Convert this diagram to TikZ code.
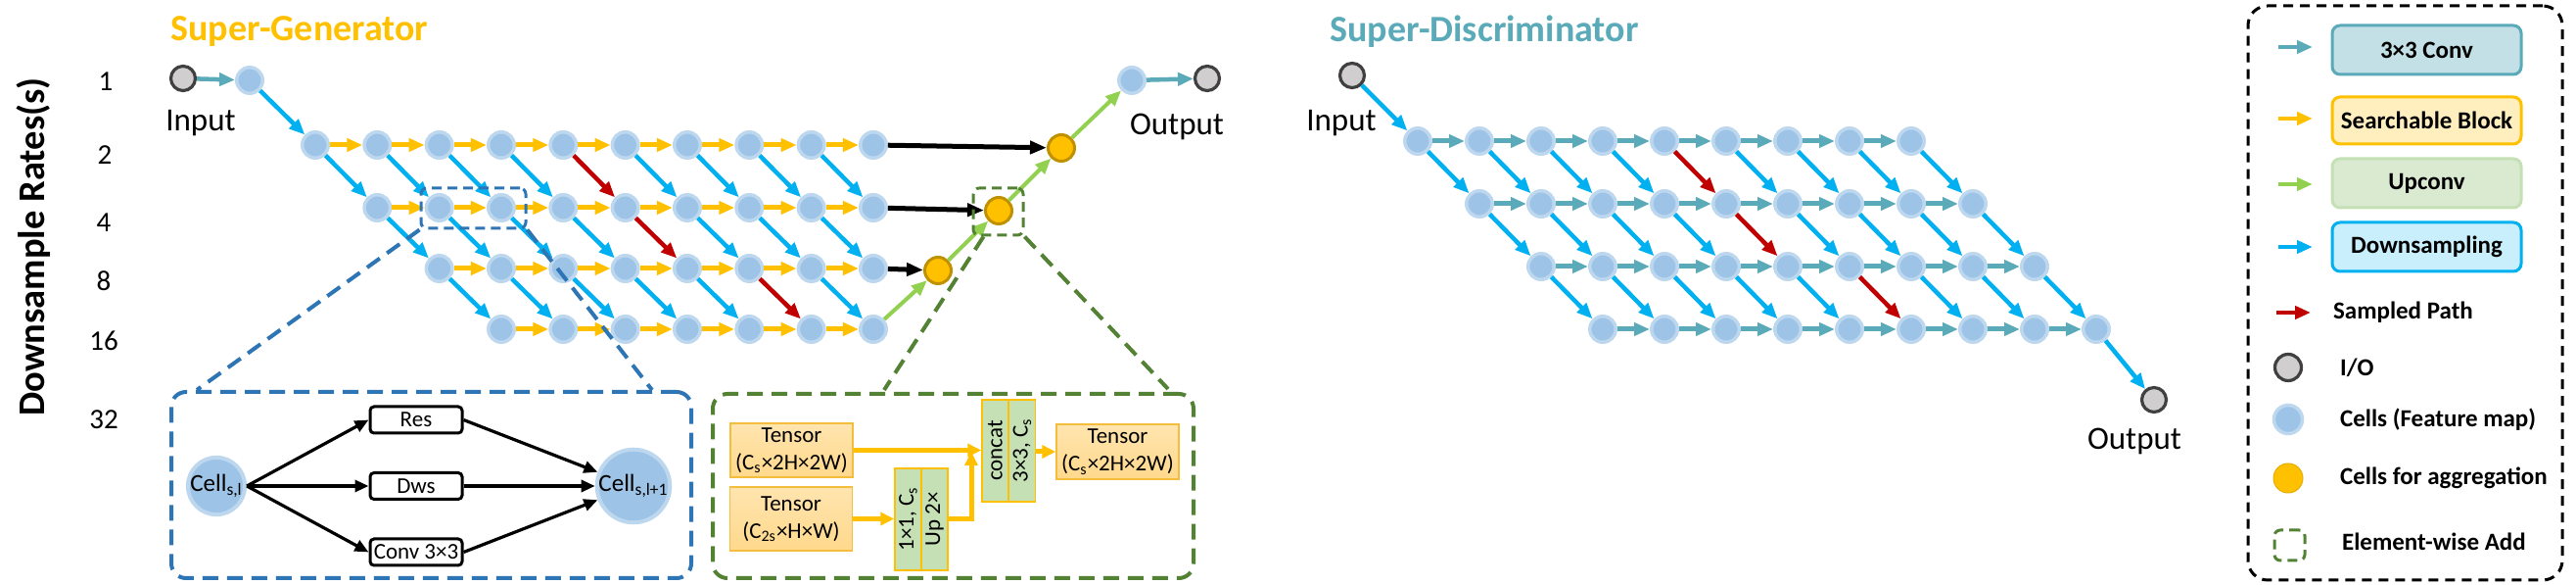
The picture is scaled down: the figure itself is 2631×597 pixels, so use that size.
\documentclass[tikz,border=0pt]{standalone}
\usepackage{fontspec}
\setmainfont{Carlito}
\usetikzlibrary{arrows.meta,calc}
\definecolor{cellfill}{HTML}{9DC3E6}
\definecolor{cellring}{HTML}{BDD7EE}
\definecolor{ioring}{HTML}{404040}
\definecolor{iofill}{HTML}{D0CECE}
\definecolor{dsblue}{HTML}{00B0F0}
\definecolor{sbyellow}{HTML}{FFC000}
\definecolor{convteal}{HTML}{5AAAB9}
\definecolor{upgreen}{HTML}{92D050}
\definecolor{pathred}{HTML}{C00000}
\definecolor{dashblue}{HTML}{2E75B6}
\definecolor{dashgreen}{HTML}{548235}
\definecolor{aggring}{HTML}{BF9000}
\definecolor{convfill}{HTML}{C3E0E6}
\definecolor{sbfill}{HTML}{FFEFBF}
\definecolor{upfill}{HTML}{D9EAD0}
\definecolor{upborder}{HTML}{C5E0B4}
\definecolor{dsfill}{HTML}{C9EEFC}
\definecolor{tensfill}{HTML}{FFD98C}
\definecolor{tensborder}{HTML}{F5BD3C}
\definecolor{opfill}{HTML}{C5E0B4}
\newcommand\setfs[1]{\fontsize{#1pt}{#1pt}\selectfont}
\tikzset{
  cell/.style={circle,fill=cellfill,draw=cellring,line width=1.75pt,minimum size=13.25pt,inner sep=0pt},
  bigcell/.style={circle,fill=cellfill,draw=cellring,line width=2pt,minimum size=28pt,inner sep=0pt},
  iocirc/.style={circle,fill=iofill,draw=ioring,line width=1.6pt,minimum size=12.5pt,inner sep=0pt},
  aggcirc/.style={circle,fill=sbyellow,draw=aggring,line width=1.5pt,minimum size=13.5pt,inner sep=0pt},
  arrtip/.style={-{Triangle[length=8pt,width=6.5pt]}},
  dsarr/.style={arrtip,draw=dsblue,line width=2.25pt},
  sbarr/.style={arrtip,draw=sbyellow,line width=2.5pt},
  convarr/.style={arrtip,draw=convteal,line width=2.25pt},
  uparr/.style={arrtip,draw=upgreen,line width=2pt},
  redarr/.style={arrtip,draw=pathred,line width=2.25pt},
  blkarr/.style={-{Triangle[length=8.5pt,width=6.5pt]},draw=black,line width=2.5pt},
  opsarr/.style={-{Triangle[length=7pt,width=6pt]},draw=black,line width=1.6pt},
  tensarr/.style={-{Triangle[length=7pt,width=6.5pt]},draw=sbyellow,line width=2.5pt},
  numlab/.style={font=\setfs{14.5}},
  iolab/.style={font=\setfs{16.5}},
  bigdash/.style={line width=2pt,dash pattern=on 8pt off 4.5pt,rounded corners=7.5pt},
  smalldash/.style={line width=1.5pt,dash pattern=on 5pt off 3pt,rounded corners=3pt},
  opbox/.style={draw=black,line width=1.5pt,rounded corners=2pt,fill=white,minimum width=47pt,minimum height=13.5pt,inner sep=0pt,font=\setfs{11.5}},
  tensbox/.style={draw=tensborder,line width=0.75pt,top color=tensfill!70!white,bottom color=tensfill,minimum width=62.5pt,inner sep=0pt,align=center,font=\fontsize{11.5pt}{14pt}\selectfont},
  ophalf/.style={draw=sbyellow,line width=0.75pt,fill=opfill,minimum width=13.5pt,minimum height=52pt,inner sep=0pt},
  oplab/.style={rotate=90,font=\setfs{11.5}},
  legbox/.style={line width=1.5pt,rounded corners=4pt,minimum width=96.5pt,minimum height=25pt,inner sep=0pt,font=\bfseries\setfs{12.5}},
  legtext/.style={anchor=west,font=\bfseries\setfs{12.5}},
}
\begin{document}
\begin{tikzpicture}[x=0.5pt,y=-0.5pt]
\useasboundingbox (0,0) rectangle (2631,597);

% ---------------- titles and axis ----------------
\node[anchor=base west,font=\bfseries\setfs{19},text=sbyellow,inner sep=0pt] (tgen) at (174,42) {Super-Generator};
\node[anchor=base west,font=\bfseries\setfs{19},text=convteal,inner sep=0pt] (tdis) at (1358,43) {Super-Discriminator};
\node[rotate=90,font=\bfseries\setfs{19.25},inner sep=0pt] (dsr) at (34,252) {Downsample Rates(s)};
\node[numlab] (n1) at (108,83) {1};
\node[numlab] (n2) at (107,158) {2};
\node[numlab] (n4) at (106,227) {4};
\node[numlab] (n8) at (106,287) {8};
\node[numlab] (n16) at (106,348) {16};
\node[numlab] (n32) at (106,428) {32};

% ---------------- Super-Generator ----------------
\node[iocirc] (gin) at (187,80) {};
\node[iolab] (ginl) at (205,126) {Input};
\node[cell] (gtop) at (255,82) {};
\foreach \r/\y in {0/148,1/212,2/274,3/336} {
  \foreach \c in {\r,...,9} {
    \node[cell] (g\r-\c) at ({322+63.33*\c},\y) {};
  }
}
\node[aggcirc] (a1) at (958,276) {};
\node[aggcirc] (a2) at (1020,215) {};
\node[aggcirc] (a3) at (1084,151) {};
\node[cell] (gocell) at (1156,82) {};
\node[iocirc] (gout) at (1233,80) {};
\node[iolab] (goutl) at (1202,129) {Output};

\draw[convarr] (gin) -- (gtop);
\draw[dsarr] (gtop) -- (g0-0);
\foreach \r in {0,...,3} {
  \foreach \c in {\r,...,8} {
    \pgfmathtruncatemacro\cn{\c+1}
    \draw[sbarr] (g\r-\c) -- (g\r-\cn);
  }
}
\foreach \r in {0,1,2} {
  \foreach \c in {\r,...,8} {
    \pgfmathtruncatemacro\rn{\r+1}
    \pgfmathtruncatemacro\cn{\c+1}
    \pgfmathtruncatemacro\isred{(\r*10+\c==4)+(\r*10+\c==15)+(\r*10+\c==27)}
    \ifnum\isred=1
      \draw[redarr] (g\r-\c) -- (g\rn-\cn);
    \else
      \draw[dsarr] (g\r-\c) -- (g\rn-\cn);
    \fi
  }
}
\draw[blkarr] (g0-9) -- (a3);
\draw[blkarr] (g1-9) -- (a2);
\draw[blkarr] (g2-9) -- (a1);
\draw[uparr] (g3-9) -- (a1);
\draw[uparr] (a1) -- (a2);
\draw[uparr] (a2) -- (a3);
\draw[uparr] (a3) -- (gocell);
\draw[convarr] (gocell) -- (gout);

% zoom boxes
\node[draw=dashblue,smalldash,minimum width=53.5pt,minimum height=20.5pt,inner sep=0pt] (zb) at (483.5,212.5) {};
\node[draw=dashgreen,smalldash,minimum width=25.5pt,minimum height=24pt,inner sep=0pt] (zg) at (1019.5,216) {};

% ---------------- cell detail (blue box) ----------------
\node[draw=dashblue,bigdash,minimum width=265.5pt,minimum height=95pt,inner sep=0pt] (bb) at (440.5,495) {};
\coordinate (bbl) at (201,398);
\coordinate (bbr) at (666,398);
\draw[draw=dashblue,line width=2pt,dash pattern=on 8pt off 4.5pt] (zb.south west) -- (bbl);
\draw[draw=dashblue,line width=2pt,dash pattern=on 8pt off 4.5pt] (zb.south east) -- (bbr);
\node[bigcell,font=\setfs{12.5}] (c1) at (221,496) {Cell\textsubscript{s,l}};
\node[bigcell,font=\setfs{12.5}] (c2) at (647,496) {Cell\textsubscript{s,l+1}};
\node[opbox] (res) at (425,428.5) {Res};
\node[opbox] (dws) at (425,496) {Dws};
\node[opbox] (cv) at (425,563.5) {Conv 3×3};
\draw[opsarr] (c1.east) -- (res.west);
\draw[opsarr] (c1.east) -- (dws.west);
\draw[opsarr] (c1.east) -- (cv.west);
\draw[opsarr] (res.east) -- (c2);
\draw[opsarr] (dws.east) -- (c2);
\draw[opsarr] (cv.east) -- (c2);

% ---------------- aggregation detail (green box) ----------------
\node[draw=dashgreen,bigdash,minimum width=245.5pt,minimum height=94pt,inner sep=0pt] (gb) at (973.5,496) {};
\coordinate (zgl) at ($(zg.south west)+(12,0)$);
\coordinate (gbl) at (903,398);
\coordinate (gbr) at (1193,397);
\draw[draw=dashgreen,line width=2pt,dash pattern=on 8pt off 4.5pt] (zgl) -- (gbl);
\draw[draw=dashgreen,line width=2pt,dash pattern=on 8pt off 4.5pt] (zg.south east) -- (gbr);
\node[tensbox,minimum height=27.5pt] (t1) at (808.5,459.5) {Tensor\\(C\textsubscript{s}×2H×2W)};
\node[tensbox,minimum height=32.5pt] (t2) at (808,529.5) {Tensor\\(C\textsubscript{2s}×H×W)};
\node[tensbox,minimum height=28pt] (t3) at (1141.5,461) {Tensor\\(C\textsubscript{s}×2H×2W)};
\node[ophalf] (o1a) at (927.5,530) {};
\node[ophalf] (o1b) at (954.5,530) {};
\node[oplab] (o1al) at (927.5,530) {1×1, C\textsubscript{s}};
\node[oplab] (o1bl) at (954.5,530) {Up 2×};
\node[ophalf] (o2a) at (1016.5,460) {};
\node[ophalf] (o2b) at (1044,460) {};
\node[oplab] (o2al) at (1016.5,460) {concat};
\node[oplab] (o2bl) at (1044,460) {3×3, C\textsubscript{s}};
\coordinate (jn) at (992,530);
\coordinate (jt) at (992,461);
\draw[tensarr] (t1.east) -- (o2a.west |- t1.east);
\draw[tensarr] (t2.east) -- (o1a.west |- t2.east);
\draw[tensarr] (o1b.east |- jn) -- (jn) -- (jt);
\draw[tensarr] (o2b.east |- t3.west) -- (t3.west);

% ---------------- Super-Discriminator ----------------
\node[iocirc] (din) at (1381,77) {};
\node[iolab] (dinl) at (1370,126) {Input};
\foreach \r/\y in {0/144,1/208,2/272,3/336} {
  \pgfmathtruncatemacro\cend{\r+8}
  \foreach \c in {\r,...,\cend} {
    \node[cell] (d\r-\c) at ({1448+63*\c},\y) {};
  }
}
\node[iocirc] (dout) at (2200,408) {};
\node[iolab] (doutl) at (2180,450) {Output};
\draw[dsarr] (din) -- (d0-0);
\foreach \r in {0,...,3} {
  \pgfmathtruncatemacro\cend{\r+7}
  \foreach \c in {\r,...,\cend} {
    \pgfmathtruncatemacro\cn{\c+1}
    \draw[convarr,line width=2.5pt] (d\r-\c) -- (d\r-\cn);
  }
}
\foreach \r in {0,1,2} {
  \pgfmathtruncatemacro\cend{\r+8}
  \foreach \c in {\r,...,\cend} {
    \pgfmathtruncatemacro\rn{\r+1}
    \pgfmathtruncatemacro\cn{\c+1}
    \pgfmathtruncatemacro\isred{(\r*10+\c==4)+(\r*10+\c==15)+(\r*10+\c==27)}
    \ifnum\isred=1
      \draw[redarr] (d\r-\c) -- (d\rn-\cn);
    \else
      \draw[dsarr] (d\r-\c) -- (d\rn-\cn);
    \fi
  }
}
\draw[dsarr] (d3-11) -- (dout);

% ---------------- Legend ----------------
\node[draw=black,line width=1.5pt,dash pattern=on 5pt off 3.5pt,rounded corners=10pt,minimum width=160.5pt,minimum height=293pt,inner sep=0pt] (leg) at (2456.5,299) {};
\node[legbox,draw=convteal,fill=convfill] (lb1) at (2478.5,51) {3×3 Conv};
\node[legbox,draw=sbyellow,fill=sbfill,minimum height=24pt] (lb2) at (2478.5,123) {Searchable Block};
\node[legbox,draw=upborder,fill=upfill] (lb3) at (2478.5,187) {Upconv};
\node[legbox,draw=dsblue,fill=dsfill] (lb4) at (2478.5,252) {Downsampling};
\coordinate (la1) at (2327,48);  \coordinate (lz1) at (2362,48);
\coordinate (la2) at (2327,121); \coordinate (lz2) at (2362,121);
\coordinate (la3) at (2327,188); \coordinate (lz3) at (2362,188);
\coordinate (la4) at (2327,252); \coordinate (lz4) at (2362,252);
\coordinate (la5) at (2325,319); \coordinate (lz5) at (2360,319);
\draw[convarr,line width=2pt] (la1) -- (lz1);
\draw[sbarr,line width=2pt] (la2) -- (lz2);
\draw[uparr] (la3) -- (lz3);
\draw[dsarr,line width=2pt] (la4) -- (lz4);
\draw[redarr,line width=2pt] (la5) -- (lz5);
\node[legtext] (lt5) at (2376,319) {Sampled Path};
\node[iocirc,minimum size=13.5pt] (lio) at (2337,375) {};
\node[legtext] (lt6) at (2383,375) {I/O};
\node[cell,minimum size=14.5pt] (lcell) at (2337,428) {};
\node[legtext] (lt7) at (2383,428) {Cells (Feature map)};
\node[circle,fill=sbyellow,draw=sbyellow!90!black,line width=0.5pt,minimum size=15pt,inner sep=0pt] (lagg) at (2337,488) {};
\node[legtext] (lt8) at (2383,488) {Cells for aggregation};
\node[draw=dashgreen,smalldash,minimum width=15.5pt,minimum height=15.5pt,inner sep=0pt] (ladd) at (2338.5,556.5) {};
\node[legtext] (lt9) at (2385,553) {Element-wise Add};
\end{tikzpicture}
\end{document}
